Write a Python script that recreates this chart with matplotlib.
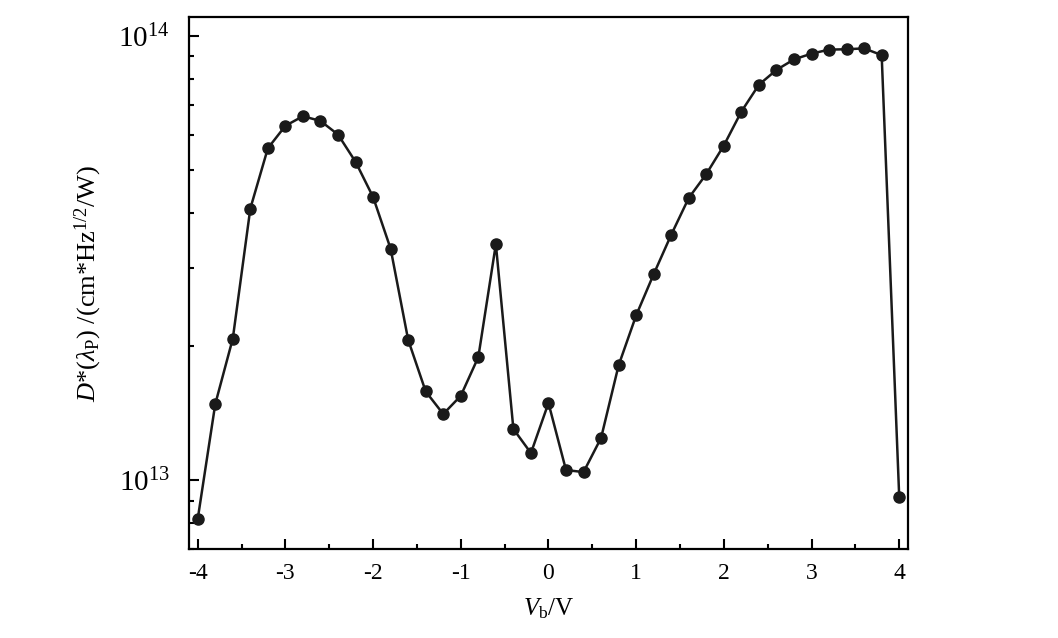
import numpy as np
import matplotlib
matplotlib.use("Agg")
import matplotlib.pyplot as plt
from matplotlib.ticker import FixedLocator, LogLocator, NullFormatter

plt.rcParams['font.family'] = ['Liberation Serif', 'DejaVu Serif']
plt.rcParams['mathtext.fontset'] = 'custom'
plt.rcParams['mathtext.rm'] = 'Liberation Serif'
plt.rcParams['mathtext.it'] = 'Liberation Serif:italic'
plt.rcParams['mathtext.bf'] = 'Liberation Serif:bold'

# bias voltage (V) and detectivity D* (cm*Hz^1/2/W)
vb = [-4.0, -3.8, -3.6, -3.4, -3.2, -3.0, -2.8, -2.6, -2.4, -2.2, -2.0,
      -1.8, -1.6, -1.4, -1.2, -1.0, -0.8, -0.6, -0.4, -0.2, 0.0,
      0.2, 0.4, 0.6, 0.8, 1.0, 1.2, 1.4, 1.6, 1.8, 2.0,
      2.2, 2.4, 2.6, 2.8, 3.0, 3.2, 3.4, 3.6, 3.8, 4.0]
dstar = [8.18e12, 1.484e13, 2.084e13, 4.09e13, 5.59e13, 6.28e13, 6.60e13, 6.44e13, 6.00e13, 5.21e13, 4.34e13,
         3.32e13, 2.07e13, 1.584e13, 1.409e13, 1.549e13, 1.893e13, 3.40e13, 1.304e13, 1.151e13, 1.492e13,
         1.054e13, 1.043e13, 1.245e13, 1.814e13, 2.35e13, 2.91e13, 3.57e13, 4.32e13, 4.89e13, 5.67e13,
         6.76e13, 7.77e13, 8.39e13, 8.86e13, 9.13e13, 9.32e13, 9.34e13, 9.38e13, 9.06e13, 9.18e12]

xticks = [-4, -3, -2, -1, 0, 1, 2, 3, 4]
yticks = [1e13, 1e14]
ytick_labels = [r'10$^{13}$', r'10$^{14}$']

fig = plt.figure(figsize=(10.58, 6.38), dpi=100)
ax = fig.add_axes([0.1786, 0.1395, 0.6796, 0.8339])

ax.plot(vb, dstar, color='#1a1a1a', lw=1.8, marker='o', ms=8)

ax.set_yscale('log')
ax.set_xlim(-4.1, 4.1)
ax.set_ylim(7e12, 1.104e14)

ax.set_xticks(xticks)
ax.set_xticklabels([str(t) for t in xticks])
ax.xaxis.set_minor_locator(FixedLocator(np.arange(-3.5, 4, 1.0)))
ax.yaxis.set_major_locator(FixedLocator(yticks))
ax.set_yticklabels(ytick_labels)
ax.yaxis.set_minor_locator(LogLocator(base=10, subs=np.arange(2, 10)))
ax.yaxis.set_minor_formatter(NullFormatter())

ax.tick_params(which='major', direction='in', length=7, width=1.5, top=False, right=False)
ax.tick_params(which='minor', direction='in', length=3.6, width=1.5, top=False, right=False)
ax.tick_params(axis='x', labelsize=17, pad=10)
ax.tick_params(axis='y', labelsize=21, pad=14)

for s in ax.spines.values():
    s.set_linewidth(1.6)

ax.set_xlabel(r'$V_{\rm b}$/V', fontsize=18, labelpad=9)
ax.set_ylabel(r'$D$*($\lambda_{\rm P}$) /(cm*Hz$^{1/2}$/W)', fontsize=19, labelpad=10)

fig.savefig('out.png', dpi=100)
